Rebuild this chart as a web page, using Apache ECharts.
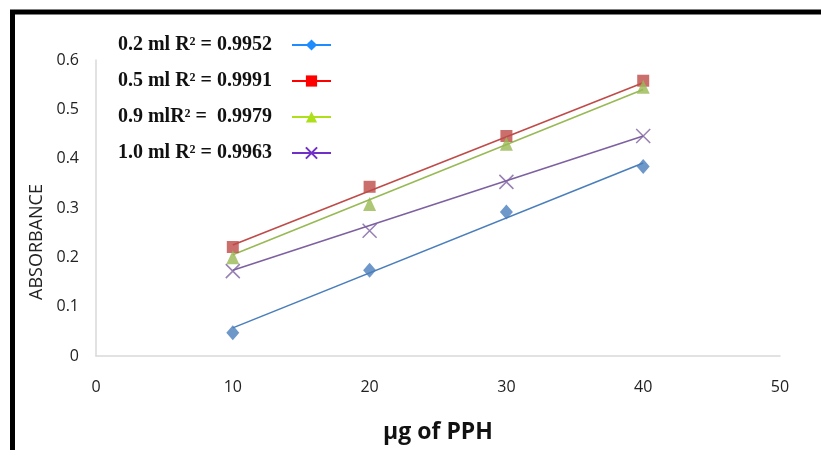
<!DOCTYPE html>
<html>
<head>
<meta charset="utf-8">
<script src="https://cdn.jsdelivr.net/npm/echarts@6/dist/echarts.min.js"></script>
<style>html,body{margin:0;padding:0;background:#fff;}#c{width:821px;height:450px;}</style>
</head>
<body>
<div id="c"></div>
<script>
// Data
var xValues = [10, 20, 30, 40];
var abs02 = [0.047, 0.174, 0.292, 0.384];
var abs05 = [0.221, 0.343, 0.446, 0.558];
var abs09 = [0.200, 0.308, 0.430, 0.546];
var abs10 = [0.172, 0.254, 0.353, 0.446];
// Trend line end points
var trendX = [10, 40];
var trend02 = [0.057, 0.391];
var trend05 = [0.225, 0.554];
var trend09 = [0.205, 0.540];
var trend10 = [0.174, 0.446];
var legendLabels = ['0.2 ml R² = 0.9952', '0.5 ml R² = 0.9991', '0.9 mlR² =  0.9979', '1.0 ml R² = 0.9963'];
var xTicks = [0, 10, 20, 30, 40, 50];
var yTicks = [0, 0.1, 0.2, 0.3, 0.4, 0.5, 0.6];

function pairs(xs, ys) { return xs.map(function (x, i) { return [x, ys[i]]; }); }

var markColors = ['#4A7EBB', '#BE4B48', '#98B954', '#7D60A0'];
var legendColors = ['#1E8CFF', '#FF0000', '#AEE01A', '#7030C8'];
var symbols = ['diamond', 'rect', 'triangle', 'path://M0,0 L10,10 M10,0 L0,10'];
var symbolSizes = [[13, 15], 12, [13, 14], 14];
var marks = [abs02, abs05, abs09, abs10];
var trends = [trend02, trend05, trend09, trend10];

var series = [];
for (var i = 0; i < 4; i++) {
  series.push({
    type: 'line', name: 'trend' + i, data: pairs(trendX, trends[i]),
    showSymbol: false, symbol: 'none', color: markColors[i],
    lineStyle: { width: 1.6, color: markColors[i] }, z: 2, silent: true
  });
}
for (var j = 0; j < 4; j++) {
  var isX = j === 3;
  series.push({
    type: 'scatter', name: 'pts' + j, data: pairs(xValues, marks[j]),
    symbol: symbols[j], symbolSize: symbolSizes[j], z: 3,
    itemStyle: isX ? { color: 'none', borderColor: markColors[j], borderWidth: 1.5 } : { color: markColors[j] }
  });
}
for (var k = 0; k < 4; k++) {
  var isX2 = k === 3;
  series.push({
    type: 'line', name: legendLabels[k], data: [],
    color: legendColors[k], symbol: symbols[k], symbolSize: 10,
    lineStyle: { width: 3, color: legendColors[k] },
    itemStyle: isX2 ? { color: 'none', borderColor: legendColors[k], borderWidth: 1.5 } : { color: legendColors[k] }
  });
}

var chart = echarts.init(document.getElementById('c'));
chart.setOption({
  animation: false,
  backgroundColor: '#fff',
  graphic: [{
    type: 'rect', z: -1,
    shape: { x: 12.5, y: 12, width: 1000, height: 1000 },
    style: { fill: 'none', stroke: '#000', lineWidth: 5 }
  }],
  grid: { left: 96, right: 41, top: 60, bottom: 94 },
  legend: {
    data: legendLabels,
    orient: 'vertical', align: 'right',
    right: 489, top: 35, padding: 0,
    itemWidth: 39, itemHeight: 14, itemGap: 16,
    formatter: function (n) { return '{a|' + n + '}'; },
    textStyle: {
      rich: { a: { fontFamily: 'Liberation Serif', fontWeight: 'bold', fontSize: 20, color: '#111', lineHeight: 22, padding: [0, 15, 0, 0] } }
    }
  },
  xAxis: {
    type: 'value', min: 0, max: 50, interval: 10,
    name: 'µg of PPH', nameLocation: 'middle', nameGap: 65,
    nameTextStyle: { fontFamily: 'Open Sans', fontWeight: 'bold', fontSize: 23, color: '#111' },
    axisLine: { lineStyle: { color: '#D9D9D9', width: 1.5 } },
    axisTick: { show: false },
    splitLine: { show: false },
    axisLabel: { fontFamily: 'Open Sans', fontSize: 16, color: '#222', margin: 23,
      formatter: function (v) { return xTicks.indexOf(v) >= 0 ? String(v) : ''; } }
  },
  yAxis: {
    type: 'value', min: 0, max: 0.6, interval: 0.1,
    name: 'ABSORBANCE', nameLocation: 'middle', nameGap: 49,
    nameTextStyle: { fontFamily: 'Open Sans', fontSize: 18, color: '#222', padding: [0, 68, 0, 0] },
    axisLine: { show: true, lineStyle: { color: '#D9D9D9', width: 1.5 } },
    axisTick: { show: false },
    splitLine: { show: false },
    axisLabel: { fontFamily: 'Open Sans', fontSize: 16, color: '#222', margin: 17,
      formatter: function (v) { var r = Math.round(v * 10) / 10; return yTicks.indexOf(r) >= 0 ? String(r) : ''; } }
  },
  series: series
});
</script>
</body>
</html>
